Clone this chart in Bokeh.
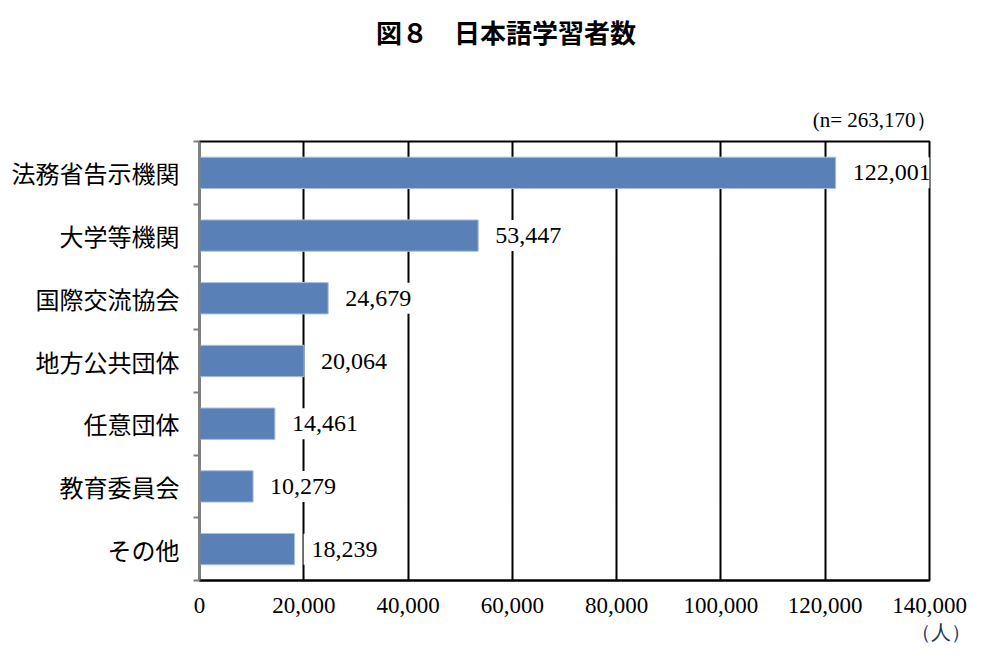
from bokeh.plotting import figure
from bokeh.models import Range1d, FixedTicker, Label, NumeralTickFormatter, Title, Div
from bokeh.layouts import column
from bokeh.embed import file_html
from bokeh.resources import INLINE

categories = ["法務省告示機関", "大学等機関", "国際交流協会", "地方公共団体", "任意団体", "教育委員会", "その他"]
values = [122001, 53447, 24679, 20064, 14461, 10279, 18239]
x_ticks = [0, 20000, 40000, 60000, 80000, 100000, 120000, 140000]
title_text = "図８　日本語学習者数"
total_note = "(n= 263,170）"
unit_note = "（人）"

n = len(categories)
centers = [i + 0.5 for i in range(n)]
bounds = [i for i in range(n + 1)]

SERIF = "Liberation Serif"
JP = "Noto Sans CJK JP"

head = Div(text=('<div style="padding:19px 0 0 376px; font-family:\'Noto Sans CJK JP\'; '
                 'font-size:26px; font-weight:bold; line-height:26px; color:black; '
                 'white-space:nowrap;">' + title_text + '</div>'),
           width=974, height=95, margin=0)

p = figure(width=974, height=559, output_backend="svg", toolbar_location=None,
           x_range=Range1d(0, 140000), y_range=Range1d(n, 0))
p.min_border_left = 199
p.min_border_right = 45
p.min_border_top = 5
p.min_border_bottom = 74
p.background_fill_color = "white"
p.border_fill_color = "white"
p.outline_line_color = "black"
p.outline_line_width = 2

p.hbar(y=centers, left=0, right=values, height=0.5,
       fill_color="#5A80B8", line_color="#A9C0E0", line_width=1)

# x axis
xa = p.xaxis[0]
xa.ticker = FixedTicker(ticks=x_ticks)
xa.formatter = NumeralTickFormatter(format="0,0")
xa.major_label_text_font = SERIF
xa.major_label_text_font_size = "23px"
xa.major_label_text_color = "black"
xa.major_tick_out = 0
xa.major_tick_in = 0
xa.minor_tick_out = 0
xa.minor_tick_in = 0
xa.axis_line_color = "black"
xa.axis_line_width = 2
xa.major_label_standoff = 17

# y axis
ya = p.yaxis[0]
ya.ticker = FixedTicker(ticks=centers, minor_ticks=bounds)
ya.major_label_overrides = {c: lab for c, lab in zip(centers, categories)}
ya.major_label_text_font = JP
ya.major_label_text_font_size = "24px"
ya.major_label_text_color = "black"
ya.major_tick_out = 0
ya.major_tick_in = 0
ya.minor_tick_out = 6
ya.minor_tick_in = 0
ya.minor_tick_line_color = "#808080"
ya.minor_tick_line_width = 2
ya.axis_line_color = "#808080"
ya.axis_line_width = 2
ya.major_label_standoff = 14

p.xgrid.grid_line_color = "black"
p.xgrid.grid_line_width = 2
p.ygrid.grid_line_color = None

# value labels
for v, c in zip(values, centers):
    p.add_layout(Label(x=v, y=c, text=f"{v:,}", x_offset=9,
                       text_font=SERIF, text_font_size="24px", text_color="black",
                       text_baseline="middle", text_align="left",
                       background_fill_color="white", padding=8))

# notes
p.add_layout(Title(text=total_note, align="right", offset=-7, standoff=20,
                   vertical_align="bottom", text_font=SERIF, text_font_size="21px",
                   text_font_style="normal", text_color="black"), "above")
p.add_layout(Title(text=unit_note, align="right", offset=-41, standoff=10,
                   vertical_align="top", text_font=SERIF, text_font_size="20px",
                   text_font_style="normal", text_color="#1F3864"), "below")

open("out.html", "w").write(file_html(column(head, p, spacing=0), INLINE))
